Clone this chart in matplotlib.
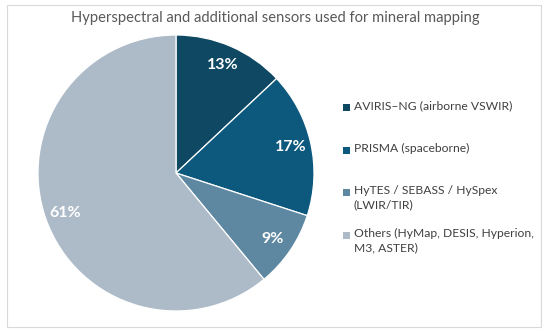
import matplotlib.pyplot as plt
from matplotlib.patches import Rectangle

# Data
labels = ["AVIRIS\u2013NG (airborne VSWIR)",
          "PRISMA (spaceborne)",
          "HyTES / SEBASS / HySpex\n(LWIR/TIR)",
          "Others (HyMap, DESIS, Hyperion,\nM3, ASTER)"]
shares = [13, 17, 9, 61]
colors = ["#0e4863", "#0d597d", "#5e88a1", "#adbbc8"]

plt.rcParams['font.family'] = ['Lato', 'DejaVu Sans']

W, H = 550, 334
fig = plt.figure(figsize=(5.5, 3.34), dpi=100)

# chart border
fig.patches.append(Rectangle((7 / W, 1 - 327 / H), 534 / W, 322 / H,
                             transform=fig.transFigure, fill=False,
                             edgecolor="#d9d9d9", linewidth=0.8))

fig.text(0.5, 1 - 18 / H, "Hyperspectral and additional sensors used for mineral mapping",
         ha="center", va="center", fontsize=10.6, color="#595959")

# pie
cx, cy, r = 176, 173, 138
ax = fig.add_axes([(cx - r) / W, 1 - (cy + r) / H, 2 * r / W, 2 * r / H])
wedges, _, autotexts = ax.pie(shares, colors=colors, startangle=90, counterclock=False,
                              autopct="%d%%", pctdistance=0.85,
                              wedgeprops=dict(edgecolor="white", linewidth=0.9),
                              textprops=dict(color="white", fontsize=11.5, fontweight="bold"))
ax.set_aspect("auto")
ax.set_xlim(-1, 1)
ax.set_ylim(-1, 1)

# legend (manual placement, first-line rows)
rows = [107, 150, 192, 235]
for w, lab, y in zip(wedges, labels, rows):
    fig.patches.append(Rectangle((343 / W, 1 - (y + 3.5) / H), 7 / W, 7 / H,
                                 transform=fig.transFigure,
                                 facecolor=w.get_facecolor(), edgecolor="none"))
    fig.text(354 / W, 1 - (y - 7) / H, lab, ha="left", va="top",
             fontsize=8.7, color="#404040", linespacing=1.35)

fig.savefig("out.png", dpi=100)
